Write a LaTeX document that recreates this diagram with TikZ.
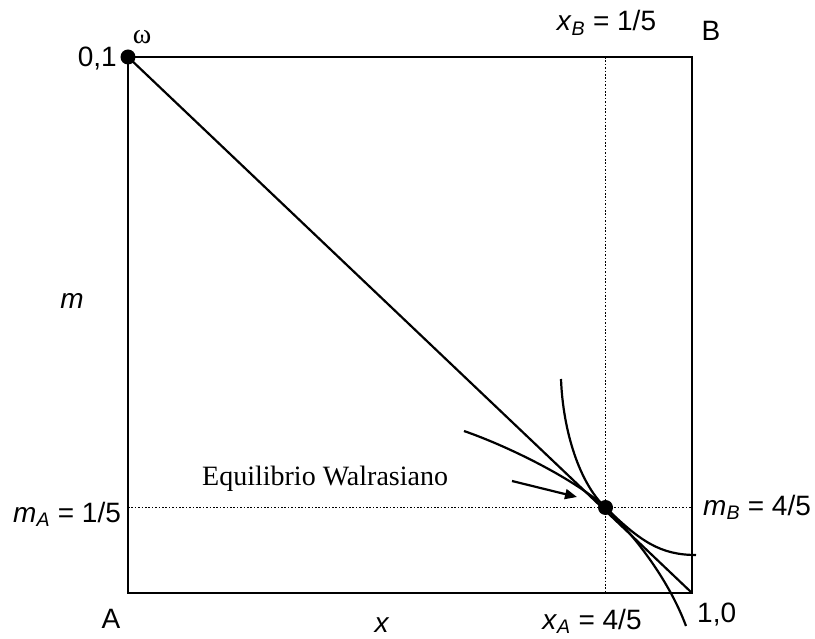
\documentclass[tikz,border=0pt]{standalone}
\usepackage{fontspec}
\setmainfont{Liberation Sans}
\newfontfamily\labelserif{Liberation Serif}
\usetikzlibrary{arrows.meta}
\begin{document}
\begin{tikzpicture}[x=1pt,y=-1pt,
  thick line/.style={line width=2.2pt},
  lbl/.style={font=\fontsize{28}{32}\selectfont, inner sep=0pt},
  dotline/.style={line width=1.6pt, dash pattern=on 1.6pt off 1.8pt},
  blob/.style={circle, fill=black, inner sep=0pt, minimum size=15pt}]
\useasboundingbox (0,0) rectangle (815,639);
% corners
\coordinate (TL) at (128,57);
\coordinate (BR) at (692,593);
\coordinate (vt) at (605.5,57);
\coordinate (vb) at (605.5,593);
\coordinate (hl) at (128,507.5);
\coordinate (hr) at (692,507.5);
\coordinate (E) at (605.5,507.5);
% dotted guides
\draw[dotline] (vt) -- (vb);
\draw[dotline] (hl) -- (hr);
% box and budget line
\draw[thick line] (TL) rectangle (BR);
\draw[thick line] (TL) -- (BR);
% indifference curves
\coordinate (c1s) at (464,431);
\coordinate (c1e) at (696,555);
\draw[thick line] (c1s) .. controls (510,447) and (576,480) .. (E)
  .. controls (640,541) and (660,555) .. (c1e);
\coordinate (c2s) at (561,379);
\coordinate (c2e) at (686,626);
\draw[thick line] (c2s) .. controls (563,432) and (580,484) .. (E)
  .. controls (638,539) and (670,583) .. (c2e);
% points
\node[blob] (w) at (TL) {};
\node[blob] (eq) at (E) {};
% arrow
\coordinate (as) at (512,481);
\coordinate (ae) at (577,497);
\draw[thick line, -{Triangle[length=12pt,width=10pt]}] (as) -- (ae);
% labels
\node[lbl, anchor=base] (xB) at (606.5,31) {\textit{x}\textsubscript{\textit{B}} = 1/5};
\node[lbl, anchor=base] (Blab) at (711,41) {B};
\node[lbl, anchor=base east] (o1) at (117,67) {0,1};
\node[inner sep=0pt, font=\labelserif\fontsize{28}{30}\selectfont] (om) at (142,37) {ω};
\node[lbl, anchor=base] (mlab) at (72,309) {\textit{m}};
\node[lbl, anchor=base west] (mA) at (13,522) {\textit{m}\textsubscript{\textit{A}} = 1/5};
\node[lbl, anchor=base west] (mB) at (703,515) {\textit{m}\textsubscript{\textit{B}} = 4/5};
\node[lbl, anchor=base] (Alab) at (111,628) {A};
\node[lbl, anchor=base] (xlab) at (382,632) {\textit{x}};
\node[lbl, anchor=base] (xA) at (592,629) {\textit{x}\textsubscript{\textit{A}} = 4/5};
\node[lbl, anchor=base west] (o0) at (697,622) {1,0};
\node[inner sep=0pt, anchor=base west, font=\labelserif\fontsize{28}{30}\selectfont] (eqlab) at (202,485) {Equilibrio Walrasiano};
\end{tikzpicture}
\end{document}
